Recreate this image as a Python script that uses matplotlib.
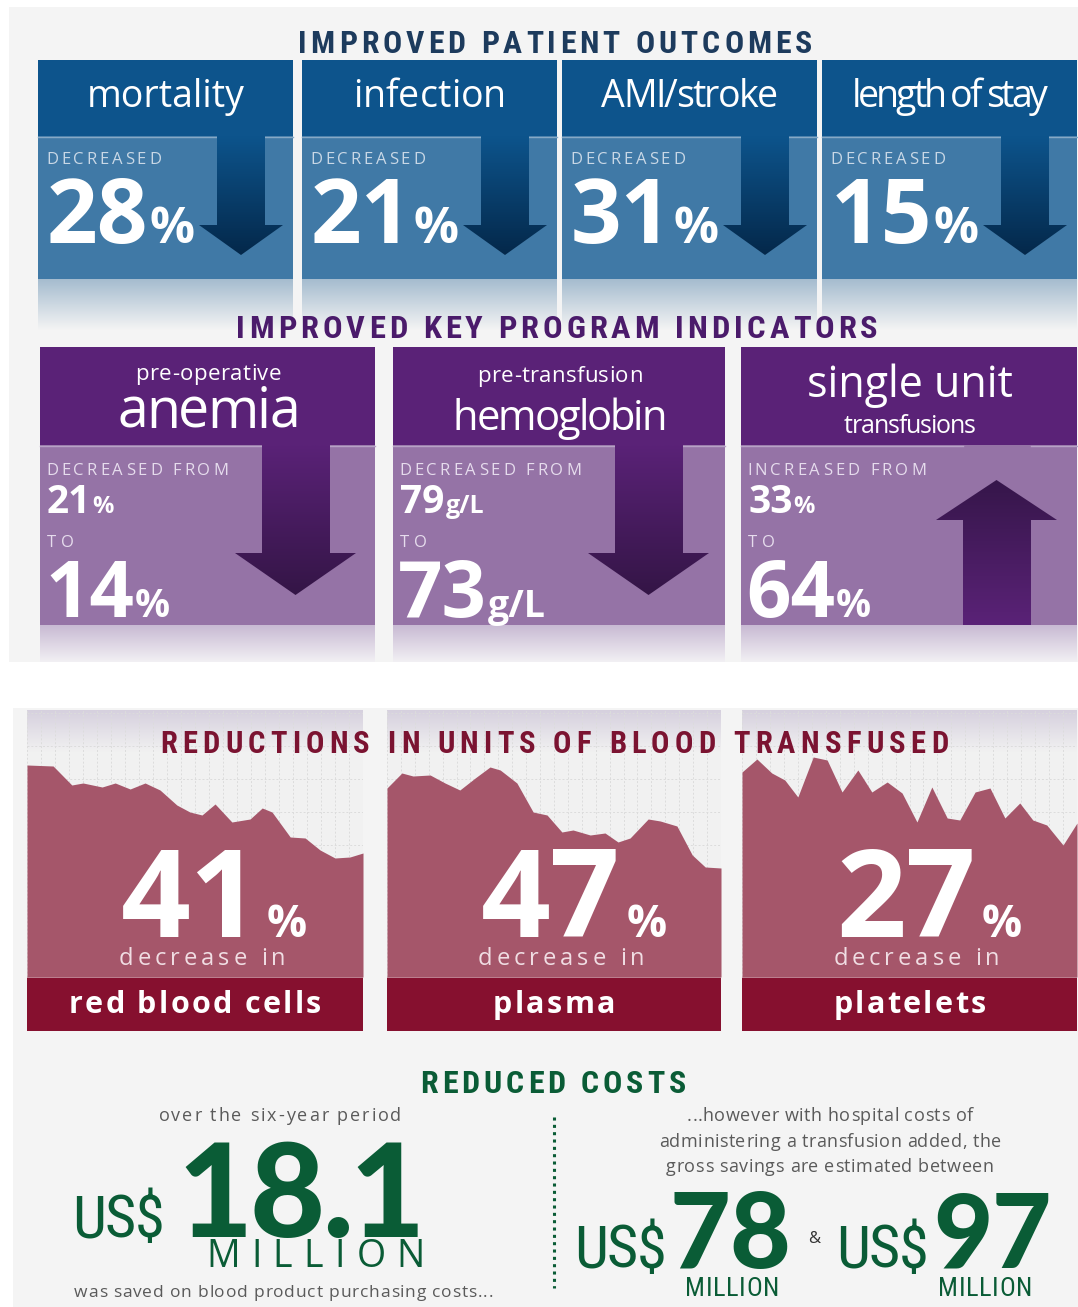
import numpy as np
import matplotlib
matplotlib.use("Agg")
import matplotlib.pyplot as plt
from matplotlib import font_manager as fm
from matplotlib.ft2font import FT2Font
from matplotlib.patches import Rectangle, Polygon
from matplotlib.colors import to_rgba
try:
    from matplotlib.ft2font import LoadFlags
    NOHINT = LoadFlags.NO_HINTING
except ImportError:
    from matplotlib.ft2font import LOAD_NO_HINTING as NOHINT

# ------------------------------------------------------------------ data
outcome_labels = ["mortality", "infection", "AMI/stroke", "length of stay"]
outcome_decrease = [28, 21, 31, 15]

indicator_line1 = ["pre-operative", "pre-transfusion", "single unit"]
indicator_line2 = ["anemia", "hemoglobin", "transfusions"]
indicator_verb = ["DECREASED FROM", "DECREASED FROM", "INCREASED FROM"]
indicator_from = [21, 79, 33]
indicator_to = [14, 73, 64]
indicator_unit = ["%", "g/L", "%"]
indicator_dir = ["down", "down", "up"]

product_labels = ["red blood cells", "plasma", "platelets"]
product_decrease = [41, 47, 27]

# monthly units transfused (relative index) over the six-year period
rbc_month = [0, 5.6, 9.6, 12.0, 16.1, 18.9, 22.1, 25.3, 28.5, 32.1, 34.9, 37.5,
             40.3, 43.9, 47.8, 50.4, 52.5, 56.4, 59.6, 62.8, 66.0, 69.2, 72.0]
rbc_units = [212, 211, 192, 194, 190, 194, 188, 194, 187, 172, 165, 162,
             173, 155, 158, 169, 165, 140, 139, 127, 119, 120, 124]
plasma_month = [0, 3.2, 5.6, 9.3, 12.5, 15.7, 19.0, 22.2, 24.4, 28.0, 31.5, 34.5,
                37.7, 40.1, 43.8, 47.0, 49.8, 52.4, 56.3, 58.9, 62.5, 65.8, 68.6, 72.0]
plasma_units = [189, 204, 201, 202, 194, 187, 199, 210, 207, 194, 165, 162,
                145, 147, 142, 144, 135, 139, 158, 156, 151, 122, 110, 109]
platelet_month = [0, 3.2, 6.4, 9.2, 12.0, 15.3, 18.3, 21.5, 24.9, 27.9, 31.2, 34.4,
                  37.6, 40.8, 44.1, 46.8, 50.1, 53.3, 56.5, 59.7, 62.5, 65.5, 69.0, 72.0]
platelet_units = [205, 218, 204, 197, 180, 220, 217, 185, 207, 185, 195, 184,
                  155, 190, 159, 157, 185, 189, 159, 174, 157, 152, 132, 154]

cost_purchase = 18.1
cost_gross = [78, 97]
cost_intro = "over the six-year period"
cost_outro = "was saved on blood product purchasing costs..."
cost_note = ["...however with hospital costs of",
             "administering a transfusion added, the",
             "gross savings are estimated between"]

# ------------------------------------------------------------------ fonts
def _wv(f):
    w = f.weight
    if isinstance(w, str):
        w = fm.weight_dict.get(w, 400)
    return w


def font_path(families, weight=400):
    for fam in families:
        c = [f for f in fm.fontManager.ttflist if f.name == fam and f.style == "normal"]
        if c:
            return min(c, key=lambda f: abs(_wv(f) - weight)).fname
    return fm.findfont(fm.FontProperties(family="DejaVu Sans", weight=weight))


def narrow_path(weight):
    tl = fm.fontManager.ttflist
    for fam in ["Liberation Sans Narrow", "Roboto Condensed", "Open Sans Condensed"]:
        c = [f for f in tl if f.name == fam and f.style == "normal"]
        if c:
            return min(c, key=lambda f: abs(_wv(f) - weight)).fname
    c = [f for f in tl if "Condensed" in f.fname and "DejaVuSans" in f.fname
         and "Oblique" not in f.fname and "Mono" not in f.fname]
    if c:
        return min(c, key=lambda f: abs(_wv(f) - weight)).fname
    return font_path(["Roboto", "Lato", "Open Sans"], weight)

F_REG = font_path(["Open Sans", "Noto Sans", "Lato"], 400)
F_BOLD = font_path(["Open Sans", "Noto Sans", "Lato"], 700)
F_NARROWB = narrow_path(700)
F_NARROW = narrow_path(400)
F_HEAVY = font_path(["Lato", "Roboto", "Inter", "Open Sans"], 900)

_ft = {}
def advances(path, size, s):
    if path not in _ft:
        _ft[path] = FT2Font(path)
    f = _ft[path]
    f.set_size(size, 100)
    return [f.load_char(ord(ch), flags=NOHINT).linearHoriAdvance / 65536 for ch in s]

# ------------------------------------------------------------------ canvas
W, H = 1078, 1307
fig = plt.figure(figsize=(W / 100, H / 100), dpi=100)
fig.patch.set_facecolor("white")
bg = fig.add_axes([0, 0, 1, 1], zorder=0)
ov = fig.add_axes([0, 0, 1, 1], zorder=5)
for a in (bg, ov):
    a.set_xlim(0, W); a.set_ylim(H, 0); a.axis("off")


def put(s, x, y, path, size, color, ha="left", width=None, track=0.0, z=10,
        min_track=None, fit_track=None):
    adv = advances(path, size, s)
    n = len(s)
    nat = sum(adv)
    if width is not None and n > 1:
        if fit_track is not None:
            size = size * (width - fit_track * (n - 1)) / nat
            adv = advances(path, size, s)
            nat = sum(adv)
        track = (width - nat) / (n - 1)
        if min_track is not None and track < min_track:
            size = size * (width - min_track * (n - 1)) / nat
            adv = advances(path, size, s)
            nat = sum(adv)
            track = (width - nat) / (n - 1)
    total = nat + track * (n - 1)
    x0 = x if ha == "left" else (x - total / 2 if ha == "center" else x - total)
    fp = fm.FontProperties(fname=path, size=size)
    if abs(track) < 0.05:
        ov.text(x0, y, s, fontproperties=fp, color=color, ha="left",
                va="baseline", zorder=z)
        return x0, x0 + total
    pen = x0
    for ch, a in zip(s, adv):
        if ch != " ":
            ov.text(pen, y, ch, fontproperties=fp, color=color, ha="left",
                    va="baseline", zorder=z)
        pen += a + track
    return x0, pen - track


def rect(x0, y0, x1, y1, c, z=1):
    bg.add_patch(Rectangle((x0, y0), x1 - x0, y1 - y0, facecolor=c,
                           edgecolor="none", zorder=z))


def vgrad(x0, y0, x1, y1, c0, c1, z=1, clip=None):
    t = np.linspace(0, 1, 128)[:, None, None]
    a = np.array(to_rgba(c0)); b = np.array(to_rgba(c1))
    img = a * (1 - t) + b * t
    img = np.repeat(img, 2, axis=1)
    im = bg.imshow(img, extent=(x0, x1, y1, y0), aspect="auto", zorder=z,
                   interpolation="bilinear")
    if clip is not None:
        im.set_clip_path(clip)
    return im


def arrow(sl, sr, send, hb, hl, hr, tx, ty, c_top, c_bot, z=3):
    verts = [(sl, send), (sr, send), (sr, hb), (hr, hb), (tx, ty), (hl, hb), (sl, hb)]
    poly = Polygon(verts, closed=True, facecolor="none", edgecolor="none",
                   transform=bg.transData)
    bg.add_patch(poly)
    y0, y1 = min(send, ty), max(send, ty)
    vgrad(hl, y0, hr, y1, c_top, c_bot, z=z, clip=poly)

# ------------------------------------------------------------------ section 1
NAVY = "#1d3b5d"
rect(9, 7, W, 662, "#f4f4f4", 0)
put("IMPROVED PATIENT OUTCOMES", 555, 53, F_NARROWB, 24, NAVY, ha="center",
    width=514, min_track=4)

BHEAD, BBODY = "#0d548c", "#4079a6"
box_x = [38, 302, 562, 822]
label_w = [158, 153, 177, 196]
for i, (lab, val) in enumerate(zip(outcome_labels, outcome_decrease)):
    x0 = box_x[i]; x1 = x0 + 255
    rect(x0, 60, x1, 136, BHEAD)
    rect(x0, 136, x1, 279, BBODY)
    vgrad(x0, 279, x1, 330, "#a5bccf", "#f4f4f4", z=1)
    bg.plot([x0, x0 + 179], [136.5, 136.5], color="#87a9c6", lw=1, zorder=2)
    bg.plot([x0 + 227, x1], [136.5, 136.5], color="#87a9c6", lw=1, zorder=2)
    arrow(x0 + 179, x0 + 227, 136, 225, x0 + 161, x0 + 245, x0 + 203, 255,
          BHEAD, "#04284a")
    put(lab, (x0 + x1) / 2, 107, F_REG, 27, "white", ha="center", width=label_w[i])
    put("DECREASED", x0 + 8, 164, F_REG, 12, "#c9d8e6", width=115)
    _, r = put(str(val), x0 + 9, 243, F_BOLD, 64, "white")
    put("%", r + 1, 243, F_BOLD, 36, "white")

# ------------------------------------------------------------------ section 2
PURP = "#4b1b6b"
PHEAD, PBODY = "#5a2277", "#9573a6"
put("IMPROVED KEY PROGRAM INDICATORS", 557, 338, F_NARROWB, 24, PURP, ha="center",
    width=641, min_track=4)
pbox = [(40, 375), (393, 725), (741, 1077)]
hdr = [[(380, 16, 146), (428, 40, 183)],
       [(382, 16, 165), (430, 30, 214)],
       [(397, 31, 206), (433, 18, 132)]]
verb_w = [182, 182, 179]
for i in range(3):
    x0, x1 = pbox[i]
    rect(x0, 347, x1, 445, PHEAD)
    rect(x0, 445, x1, 625, PBODY)
    vgrad(x0, 625, x1, 662, "#c8bad3", "#f2f0f4", z=1)
    bg.plot([x0, x0 + 222], [445.5, 445.5], color="#b7a2c6", lw=1, zorder=2)
    bg.plot([x0 + 290, x1], [445.5, 445.5], color="#b7a2c6", lw=1, zorder=2)
    if indicator_dir[i] == "down":
        arrow(x0 + 222, x0 + 290, 445, 553, x0 + 195, x0 + 316, x0 + 255.5, 595,
              PHEAD, "#341546")
    else:
        arrow(x0 + 222, x0 + 290, 625, 520, x0 + 195, x0 + 316, x0 + 255.5, 480,
              "#36164a", "#5a2277")
    cx = (x0 + x1) / 2 + 1
    for txt, (yb, sz, wd) in zip([indicator_line1[i], indicator_line2[i]], hdr[i]):
        put(txt, cx, yb, F_REG, sz, "white", ha="center", width=wd)
    put(indicator_verb[i], x0 + 6, 475, F_REG, 12, "#e6dced", width=verb_w[i])
    unit = indicator_unit[i]
    _, r = put(str(indicator_from[i]), x0 + 7, 513, F_BOLD, 28, "white")
    put(unit, r + 1, 513, F_BOLD, 17 if unit == "%" else 18, "white")
    put("TO", x0 + 7, 547, F_REG, 12, "#e6dced", width=27)
    _, r = put(str(indicator_to[i]), x0 + 5, 617, F_BOLD, 56, "white")
    put(unit, r + 1, 617, F_BOLD, 28 if unit == "%" else 27, "white")

# ------------------------------------------------------------------ section 3
RED = "#7b1331"
rect(13, 708, W, H, "#f4f4f4", 0)
panels = [(27, 363), (387, 721), (742, 1077)]
series = [(rbc_month, rbc_units), (plasma_month, plasma_units),
          (platelet_month, platelet_units)]
for i, ((x0, x1), (mx, uy)) in enumerate(zip(panels, series)):
    rect(x0, 710, x1, 977, "#f1f1f1", 0.5)
    vgrad(x0, 710, x1, 752, "#d6d0de", "#f1f1f1", z=0.6)
    ax = fig.add_axes([x0 / W, 1 - 977 / H, (x1 - x0) / W, (977 - 710) / H], zorder=2)
    ax.patch.set_alpha(0)
    ax.fill_between(mx, uy, 0, color="#a5566a", lw=0, zorder=2)
    ax.set_xlim(0, 72); ax.set_ylim(0, 267)
    ax.set_xticks(np.arange(0, 73, 3)); ax.set_yticks(np.arange(0, 267, 33))
    ax.grid(True, color="#dcdcdc", lw=0.7, ls=(0, (2, 2)))
    ax.set_axisbelow(True)
    ax.tick_params(length=0, labelbottom=False, labelleft=False)
    for s in ax.spines.values():
        s.set_visible(False)
    rect(x0, 976, x1, 978, "#d4a8b3", 1)
    rect(x0, 978, x1, 1031, "#86102f", 1)
    _, r = put(str(product_decrease[i]), x0 + 94, 937, F_BOLD, 88, "white")
    put("%", r + 6, 937, F_BOLD, 32, "white")
    put("decrease in", (x0 + x1) / 2 + 7, 965, F_REG, 17, "#f0dde3", ha="center", track=4)
    put(product_labels[i], (x0 + x1) / 2, 1013, F_BOLD, 22, "white", ha="center", track=2.3)
put("REDUCTIONS IN UNITS OF BLOOD TRANSFUSED", 554, 753, F_NARROWB, 22, RED,
    ha="center", width=788, z=12, min_track=4)

# ------------------------------------------------------------------ section 4
GREEN = "#0a5c36"
GREY = "#5a5a5a"
put("REDUCED COSTS", 553, 1093, F_NARROWB, 24, GREEN, ha="center", width=266,
    min_track=4)
put(cost_intro, 280, 1121, F_REG, 13, GREY, ha="center", width=243)
put("US$", 72, 1237, F_NARROW, 47, GREEN, width=93, fit_track=-1)
put(f"{cost_purchase:.1f}", 177, 1237, F_HEAVY, 97, GREEN, width=248, fit_track=-3)
put("MILLION", 206, 1267, F_REG, 27, GREEN, width=219)
put(cost_outro, 283.5, 1297, F_REG, 12.5, GREY, ha="center", width=419)
bg.plot([554, 554], [1117, 1288], color=GREEN, lw=2.2, ls=(0, (1, 1.4)), zorder=2)
for txt, yb, wd in zip(cost_note, [1121, 1147, 1172], [286, 342, 328]):
    put(txt, 830, yb, F_REG, 13, GREY, ha="center", width=wd)
gross_x = [(574, 669, 685, 121), (836, 933, 938, 118)]
for v, (xu, xn, xm, wn) in zip(cost_gross, gross_x):
    put("US$", xu, 1268, F_NARROW, 47, GREEN, width=93, fit_track=-1)
    put(str(v), xn, 1268, F_HEAVY, 71, GREEN, width=wn, fit_track=-1)
    put("MILLION", xm, 1296, F_NARROW, 19, GREEN, width=94, min_track=0)
put("&", 814, 1243, F_REG, 12, "#333333", ha="center")

for a in (bg, ov):
    a.set_xlim(0, W); a.set_ylim(H, 0)
fig.savefig("out.png", dpi=100)
